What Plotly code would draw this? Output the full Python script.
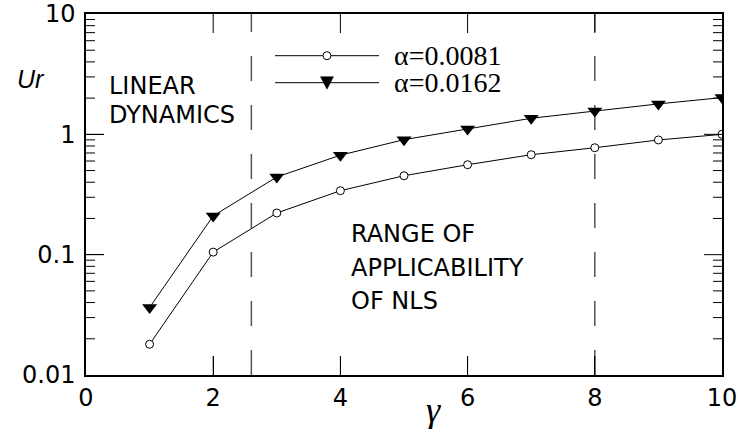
import math
import plotly.graph_objects as go

# Ursell number versus gamma for two steepness values
gamma = [1, 2, 3, 4, 5, 6, 7, 8, 9, 10]
ur_alpha_0081 = [0.018, 0.105, 0.222, 0.34, 0.453, 0.559, 0.677, 0.774, 0.898, 1.0]
ur_alpha_0162 = [0.0364, 0.21, 0.442, 0.671, 0.903, 1.11, 1.36, 1.56, 1.79, 2.02]

series_names = ["\u03b1=0.0081", "\u03b1=0.0162"]
regime_bounds = [2.6, 8.0]

x_range = [0, 10]
y_log_range = [-2, 1]
x_tick_marks = [2, 4, 6, 8]
y_major_marks = [0.1, 1]
y_minor_marks = [d * 10 ** k for k in (-2, -1, 0) for d in range(2, 10)]

WIDTH, HEIGHT = 746, 429
MARGIN = dict(l=86, r=24, t=14, b=54)
PLOT_W = WIDTH - MARGIN["l"] - MARGIN["r"]
PLOT_H = HEIGHT - MARGIN["t"] - MARGIN["b"]

TICK_FONT = dict(family="DejaVu Sans", size=24, color="black")
NOTE_FONT = dict(family="DejaVu Sans", size=24, color="black")

CIRCLE = dict(symbol="circle", size=8, color="white", line=dict(color="black", width=1))
TRIANGLE = dict(symbol="triangle-down", size=13, color="black", line=dict(width=0))

fig = go.Figure()

fig.add_trace(go.Scatter(
    x=gamma, y=ur_alpha_0081, mode="lines+markers", name=series_names[0],
    line=dict(color="black", width=1), marker=CIRCLE, showlegend=False,
))
fig.add_trace(go.Scatter(
    x=gamma, y=ur_alpha_0162, mode="lines+markers", name=series_names[1],
    line=dict(color="black", width=1), marker=TRIANGLE, showlegend=False,
))

shapes = []

# dashed regime boundaries
for xb in regime_bounds:
    shapes.append(dict(
        type="line", xref="x", yref="paper", x0=xb, x1=xb, y0=0, y1=1,
        line=dict(color="#555555", width=1.5, dash="25px,24px"), layer="below",
    ))

# inward tick marks on all four sides
TICK_LINE = dict(color="black", width=1)
x_tick_len = 19 / PLOT_H
for xt in x_tick_marks:
    for ya, yb in ((0, x_tick_len), (1, 1 - x_tick_len)):
        shapes.append(dict(
            type="line", xref="x", yref="paper",
            x0=xt, x1=xt, y0=ya, y1=yb, line=TICK_LINE,
        ))


def y_frac(v):
    return (math.log10(v) - y_log_range[0]) / (y_log_range[1] - y_log_range[0])


for marks, size in ((y_major_marks, 18), (y_minor_marks, 9)):
    frac = size / PLOT_W
    for yt in marks:
        for xa, xb in ((0, frac), (1, 1 - frac)):
            shapes.append(dict(
                type="line", xref="paper", yref="paper",
                x0=xa, x1=xb, y0=y_frac(yt), y1=y_frac(yt), line=TICK_LINE,
            ))

# legend key: sample lines and key glyphs placed in plot-fraction units
key_line_x = [0.2972, 0.4607]
key_mark_x = 0.3789
key_y = [0.8845, 0.8097]

for ky in key_y:
    shapes.append(dict(
        type="line", xref="paper", yref="paper",
        x0=key_line_x[0], x1=key_line_x[1], y0=ky, y1=ky,
        line=dict(color="black", width=1),
    ))
shapes.append(dict(
    type="circle", xref="paper", yref="paper", xsizemode="pixel", ysizemode="pixel",
    xanchor=key_mark_x, yanchor=key_y[0], x0=-4, x1=4, y0=-4, y1=4,
    fillcolor="white", line=dict(color="black", width=1),
))
shapes.append(dict(
    type="path", xref="paper", yref="paper", xsizemode="pixel", ysizemode="pixel",
    xanchor=key_mark_x, yanchor=key_y[1], path="M-6.5,6 L6.5,6 L0,-6.5 Z",
    fillcolor="black", line=dict(color="black", width=0.5),
))

annotations = []
for name, ky in zip(series_names, key_y):
    annotations.append(dict(
        text=name, xref="paper", yref="paper", x=0.4811, y=ky,
        xanchor="left", yanchor="middle", showarrow=False,
        font=dict(family="Liberation Serif", size=28, color="black"),
    ))

note_lines = [
    ("LINEAR", 0.033, 0.7992),
    ("DYNAMICS", 0.033, 0.7202),
    ("RANGE OF", 0.4135, 0.3906),
    ("APPLICABILITY", 0.4135, 0.2972),
    ("OF NLS", 0.4135, 0.2039),
]
for txt, nx, ny in note_lines:
    annotations.append(dict(
        text=txt, xref="paper", yref="paper", x=nx, y=ny,
        xanchor="left", yanchor="middle", showarrow=False, font=NOTE_FONT,
    ))

annotations.append(dict(
    text="<i>Ur</i>", xref="paper", yref="paper", x=-0.0865, y=0.82,
    xanchor="center", yanchor="middle", showarrow=False,
    font=dict(family="Liberation Sans", size=25, color="black"),
))
annotations.append(dict(
    text="<i>\u03b3</i>", xref="paper", yref="paper", x=0.5456, y=-0.097,
    xanchor="center", yanchor="middle", showarrow=False,
    font=dict(family="Liberation Serif", size=36, color="black"),
))

fig.update_layout(
    template="none",
    width=WIDTH, height=HEIGHT,
    margin=MARGIN,
    paper_bgcolor="white", plot_bgcolor="white",
    shapes=shapes, annotations=annotations,
    xaxis=dict(
        range=x_range, tickmode="linear", tick0=0, dtick=2,
        ticks="inside", ticklen=19, tickcolor="black", tickwidth=1,
        showline=True, linecolor="black", linewidth=1.5, mirror=True,
        showgrid=False, zeroline=False, tickfont=TICK_FONT, automargin=False,
    ),
    yaxis=dict(
        type="log", range=y_log_range, tickmode="linear", tick0=0, dtick=1,
        ticks="inside", ticklen=18, tickcolor="black", tickwidth=1,
        showline=True, linecolor="black", linewidth=1.5, mirror=True,
        showgrid=False, zeroline=False, tickfont=TICK_FONT, ticklabelstandoff=4,
        automargin=False,
    ),
)

fig.write_html("out.html")
